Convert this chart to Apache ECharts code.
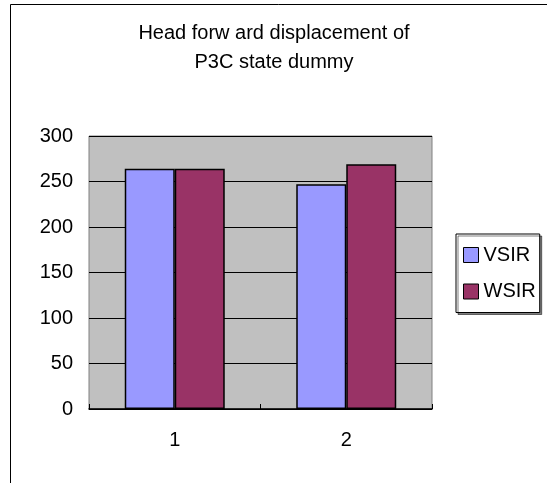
<!DOCTYPE html>
<html><head><meta charset="utf-8">
<script src="https://cdn.jsdelivr.net/npm/echarts@6/dist/echarts.min.js"></script>
<style>html,body{margin:0;padding:0;background:#fff}#c{width:547px;height:483px}</style>
</head><body><div id="c"></div>
<script>
const categories = ['1', '2'];
const vsir = [264, 247];
const wsir = [264, 269];
const seriesNames = ['VSIR', 'WSIR'];
const titleLines = ['Head forw ard displacement of', 'P3C state dummy'];

const chart = echarts.init(document.getElementById('c'));
const font = 'Liberation Sans, Arial, sans-serif';
chart.setOption({
  animation: false,
  backgroundColor: '#fff',
  title: {
    text: titleLines.join('\n'),
    left: 274, top: 19, textAlign: 'center', padding: 0,
    textStyle: {fontFamily: font, fontSize: 20, fontWeight: 'normal', color: '#000', lineHeight: 29}
  },
  graphic: [
    {type: 'line', shape: {x1: 10.5, y1: 4.5, x2: 547, y2: 4.5}, style: {stroke: '#000', lineWidth: 1}},
    {type: 'line', shape: {x1: 10.5, y1: 4.5, x2: 10.5, y2: 483}, style: {stroke: '#000', lineWidth: 1}}
  ],
  legend: {
    orient: 'vertical', left: 456, top: 234,
    padding: [11, 4, 11, 7],
    itemGap: 16.5, itemWidth: 15, itemHeight: 15, icon: 'rect',
    backgroundColor: '#fff', borderColor: '#000', borderWidth: 1,
    shadowColor: 'rgba(0,0,0,0.5)', shadowOffsetX: 2, shadowOffsetY: 2,
    textStyle: {fontFamily: font, fontSize: 20, color: '#000'},
    itemStyle: {borderColor: '#000', borderWidth: 1},
    data: seriesNames
  },
  grid: {
    left: 89, top: 136, width: 343, height: 273,
    show: true, backgroundColor: '#C0C0C0', borderColor: '#808080', borderWidth: 1
  },
  xAxis: {
    type: 'category', data: categories,
    axisLine: {lineStyle: {color: '#000', width: 1.5}},
    axisTick: {show: true, inside: true, length: 5, alignWithLabel: false, lineStyle: {color: '#000'}},
    axisLabel: {fontFamily: font, fontSize: 20, color: '#000', margin: 21}
  },
  yAxis: {
    type: 'value', min: 0, max: 300, interval: 50,
    axisLine: {show: false}, axisTick: {show: false},
    splitLine: {lineStyle: {color: '#000', width: 1}},
    axisLabel: {fontFamily: font, fontSize: 20, color: '#000', margin: 16}
  },
  series: [
    {name: seriesNames[0], type: 'bar', data: vsir, barGap: '0%', barCategoryGap: '41.7%',
     itemStyle: {color: '#9999FF', borderColor: '#000', borderWidth: 1.5}},
    {name: seriesNames[1], type: 'bar', data: wsir, barGap: '0%', barCategoryGap: '41.7%',
     itemStyle: {color: '#993366', borderColor: '#000', borderWidth: 1.5}}
  ]
});
</script></body></html>
